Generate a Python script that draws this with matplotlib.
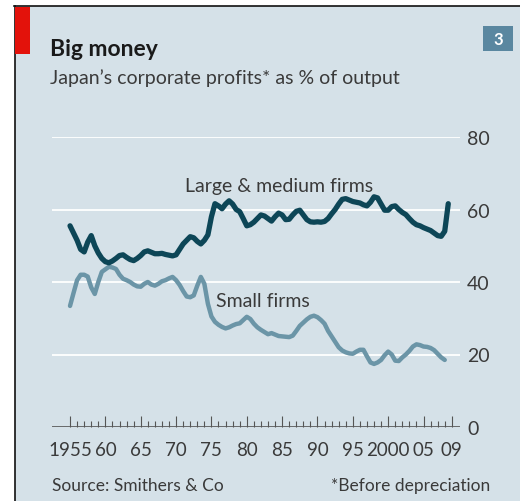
import matplotlib.pyplot as plt
import numpy as np
from matplotlib.patches import Rectangle

# Japan's corporate profits before depreciation, % of output (half-yearly)
years_large = np.arange(1955, 2008.51, 0.5)
large_firms = [
    55.5, 53.5, 51.5, 49.0, 48.3, 51.0, 52.8, 50.0, 48.0, 46.5,
    45.6, 45.3, 45.8, 46.5, 47.3, 47.5, 46.8, 46.2, 45.9, 46.5,
    47.3, 48.3, 48.6, 48.2, 47.8, 47.8, 47.9, 47.6, 47.4, 47.2,
    47.5, 49.0, 50.5, 51.5, 52.5, 52.2, 51.2, 50.5, 51.5, 53.0,
    58.0, 61.6, 61.0, 60.2, 61.5, 62.4, 61.5, 60.0, 59.4, 57.5,
    55.5, 55.8, 56.5, 57.5, 58.5, 58.2, 57.5, 56.8, 58.0, 59.0,
    58.5, 57.2, 57.3, 58.5, 59.5, 59.8, 58.5, 57.2, 56.6, 56.5,
    56.6, 56.5, 56.7, 57.5, 58.8, 60.0, 61.5, 62.8, 63.0, 62.6,
    62.2, 62.0, 61.8, 61.3, 61.0, 62.0, 63.5, 63.2, 61.5, 59.8,
    59.8, 60.8, 61.0, 60.0, 59.2, 58.6, 57.5, 56.5, 55.8, 55.5,
    55.0, 54.6, 54.2, 53.5, 52.8, 52.6, 54.0, 61.6,
]

years_small = np.arange(1955, 2008.01, 0.5)
small_firms = [
    33.4, 37.0, 40.5, 42.0, 42.0, 41.5, 38.5, 36.7, 40.0, 42.8,
    43.5, 44.2, 44.0, 43.6, 42.0, 40.9, 40.5, 40.0, 39.3, 38.8,
    38.7, 39.5, 40.0, 39.3, 39.0, 39.5, 40.2, 40.5, 41.0, 41.4,
    40.5, 39.2, 37.5, 36.0, 35.8, 36.3, 39.0, 41.4, 39.5, 34.0,
    30.5, 29.0, 28.2, 27.6, 27.2, 27.5, 28.0, 28.4, 28.6, 29.5,
    30.4, 29.8, 28.5, 27.5, 26.8, 26.2, 25.6, 25.9, 25.5, 25.1,
    25.0, 24.9, 24.8, 25.2, 26.5, 27.9, 28.8, 29.7, 30.4, 30.7,
    30.3, 29.5, 28.5, 26.5, 25.0, 23.5, 22.0, 21.1, 20.6, 20.3,
    20.2, 20.8, 21.3, 21.3, 19.5, 17.8, 17.4, 17.8, 18.5, 19.8,
    20.8, 20.0, 18.3, 18.2, 19.2, 20.0, 21.0, 22.2, 22.8, 22.6,
    22.2, 22.1, 21.8, 21.2, 20.2, 19.2, 18.5,
]

label_years = [1955, 1960, 1965, 1970, 1975, 1980, 1985, 1990, 1995, 2000, 2005, 2009]
label_text = ["1955", "60", "65", "70", "75", "80", "85", "90", "95", "2000", "05", "09"]
y_ticks = [0, 20, 40, 60, 80]

W, H = 520, 502
BG = "#d5e1e8"
TXT = "#3a3a3a"
plt.rcParams["font.family"] = ["Lato", "DejaVu Sans"]


def fx(px):
    return px / W


def fy(py):
    return 1 - py / H


fig = plt.figure(figsize=(W / 100, H / 100), dpi=100)
fig.patch.set_facecolor("white")

# panel background, borders and red tag
fig.add_artist(Rectangle((fx(15), 0), 1 - fx(15), fy(7), transform=fig.transFigure,
                         facecolor=BG, edgecolor="none", zorder=-10))
fig.add_artist(plt.Line2D([fx(14.5), fx(14.5)], [0, fy(7)], transform=fig.transFigure,
                          color="#111111", lw=1.2, zorder=-5))
fig.add_artist(plt.Line2D([fx(14), 1], [fy(7), fy(7)], transform=fig.transFigure,
                          color="#111111", lw=1.2, zorder=-5))
fig.add_artist(Rectangle((fx(15), fy(55)), fx(15), fy(8) - fy(55), transform=fig.transFigure,
                         facecolor="#e3120b", edgecolor="none", zorder=-5))

# number box
fig.add_artist(Rectangle((fx(483), fy(52)), fx(30), fy(27) - fy(52), transform=fig.transFigure,
                         facecolor="#5a87a0", edgecolor="none", zorder=-5))
fig.text(fx(498), fy(40), "3", color="white", fontsize=12, fontweight="bold",
         ha="center", va="center")

fig.text(fx(50), fy(56), "Big money", fontsize=16.5, fontweight="bold", color="#1a1a1a",
         va="baseline")
fig.text(fx(50), fy(84), "Japan\u2019s corporate profits* as % of output", fontsize=14,
         color=TXT, va="baseline")

# plot area: x 52..460 px, y 0 at 428 px, 80 at 138 px
ax = fig.add_axes([fx(52), fy(428), fx(460) - fx(52), fy(138) - fy(428)])
ax.set_facecolor("none")
ax.set_xlim(1952.45, 2010.16)
ax.set_ylim(0, 80)

for v in y_ticks[1:]:
    ax.axhline(v, color="white", lw=1.3, zorder=1)
ax.axhline(0, color="#555555", lw=1.2, zorder=2)

ax.plot(years_small, small_firms, color="#6b95a7", lw=3.2, solid_capstyle="round",
        solid_joinstyle="round", zorder=3, clip_on=False)
ax.plot(years_large, large_firms, color="#0d4657", lw=3.8, solid_capstyle="round",
        solid_joinstyle="round", zorder=4, clip_on=False)

ax.text(1984.5, 66.5, "Large & medium firms", fontsize=14, color=TXT, ha="center",
        va="center")
ax.text(1975.6, 35.0, "Small firms", fontsize=14, color=TXT, ha="left", va="center")

for s in ax.spines.values():
    s.set_visible(False)

ax.set_xticks(label_years)
ax.set_xticklabels(label_text)
ax.set_xticks(np.arange(1955, 2010), minor=True)
ax.tick_params(axis="x", which="major", direction="in", length=8, width=0.8,
               color="#555555", pad=10, labelsize=13.5, labelcolor=TXT)
ax.tick_params(axis="x", which="minor", direction="in", length=4, width=0.8,
               color="#555555")

ax.yaxis.tick_right()
ax.set_yticks(y_ticks)
ax.tick_params(axis="y", length=0, pad=5, labelsize=14, labelcolor=TXT)

fig.text(fx(52), fy(491), "Source: Smithers & Co", fontsize=12.5, color=TXT, va="baseline")
fig.text(fx(490), fy(491), "*Before depreciation", fontsize=12.5, color=TXT, va="baseline",
         ha="right")

fig.savefig("out.png", dpi=100, facecolor=fig.get_facecolor())
